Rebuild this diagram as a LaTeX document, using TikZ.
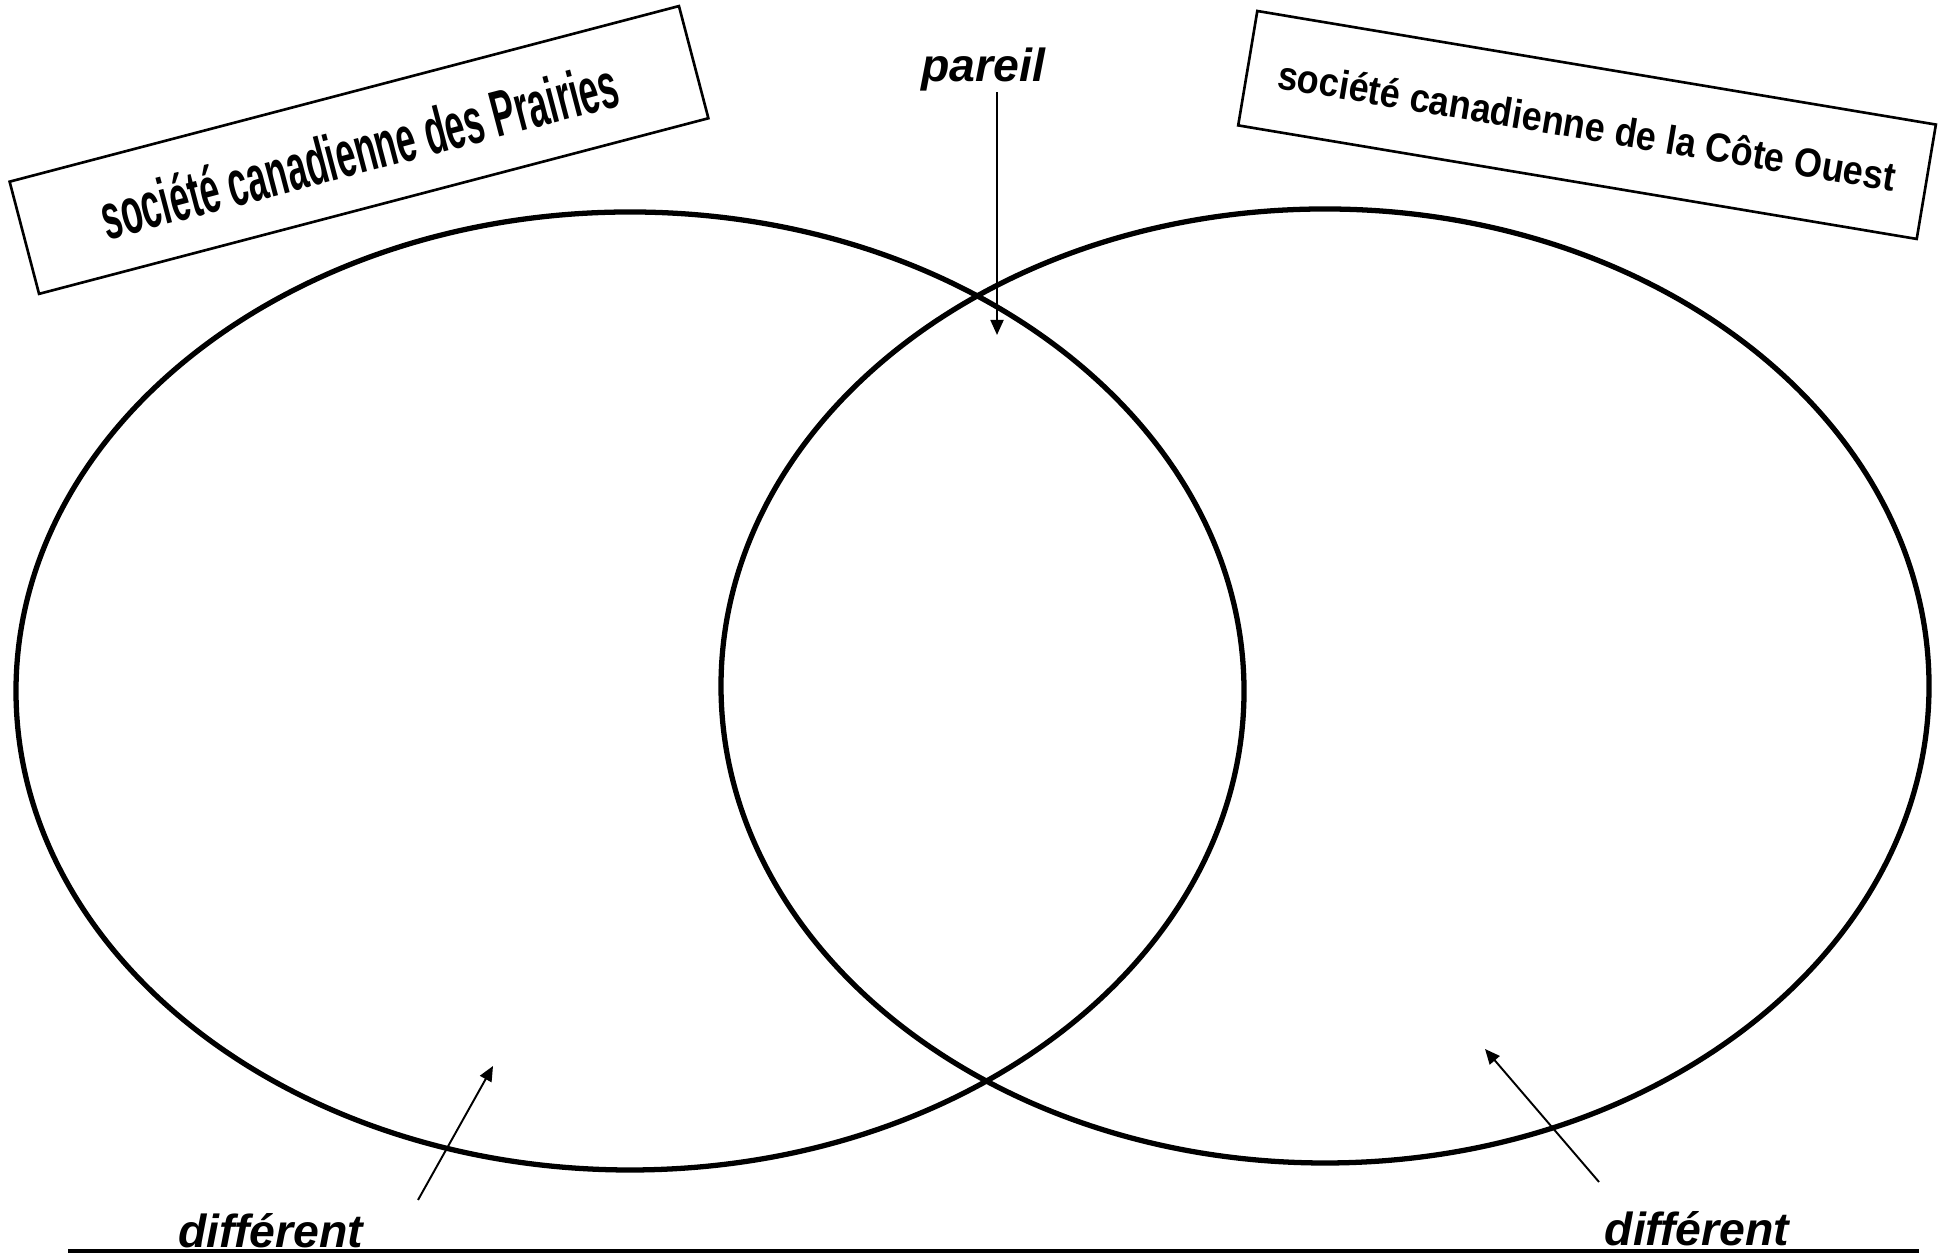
\documentclass[tikz,border=0pt]{standalone}
\usepackage{fontspec}
\setmainfont{Liberation Sans}
\usepackage{tikz}
\usetikzlibrary{arrows.meta}

\begin{document}
\begin{tikzpicture}[
  ring/.style={draw, line width=1.5pt},
  titlebox/.style={draw, line width=0.75pt, fill=white, inner sep=0pt, minimum height=1.16cm},
  lbl/.style={font=\fontsize{13.2}{15}\selectfont\bfseries\itshape, inner sep=0pt, anchor=base},
  pointer/.style={line width=0.55pt, -{Triangle[length=1.5mm, width=1.3mm]}}
]
  \useasboundingbox (0,0) rectangle (19.44,12.57);

  %--- Circles ---
  \draw[ring] (6.30,5.66) ellipse [x radius=6.14, y radius=4.79];
  \draw[ring] (13.25,5.71) ellipse [x radius=6.04, y radius=4.77];

  %--- Titles ---
  \node[titlebox, minimum width=6.92cm, rotate=14.7] (prairies) at (3.59,11.07)
    {\fontsize{18.5}{20}\selectfont\bfseries\scalebox{0.54}[1]{société canadienne des Prairies}};
  \node[titlebox, minimum width=6.88cm, rotate=-9.5] (cote) at (15.87,11.32)
    {\fontsize{11.5}{13}\selectfont\bfseries\scalebox{0.89}[1]{société canadienne de la Côte Ouest}};

  %--- Labels ---
  \node[lbl] (pareil) at (9.83,11.75) {pareil};
  \node[lbl] (diffleft) at (2.71,0.09) {différent};
  \node[lbl] (diffright) at (16.97,0.11) {différent};

  % Arrow ends
  \coordinate (pareiltip) at (9.97,9.22);
  \coordinate (lstart) at (4.18,0.57);
  \coordinate (ltip) at (4.93,1.91);
  \coordinate (rstart) at (15.99,0.75);
  \coordinate (rtip) at (14.85,2.08);

  % Arrows
  \draw[pointer] (pareil.south -| pareiltip) -- (pareiltip);
  \draw[pointer] (lstart) -- (ltip);
  \draw[pointer] (rstart) -- (rtip);

  % Base line
  \coordinate (baseL) at (0.68,0.06);
  \coordinate (baseR) at (19.19,0.06);
  \draw[line width=1.3pt] (baseL) -- (baseR);
\end{tikzpicture}
\end{document}
